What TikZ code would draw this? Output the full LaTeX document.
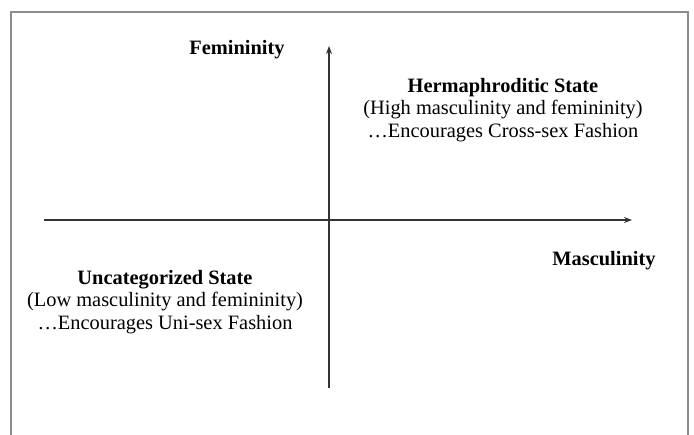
\documentclass[tikz,border=0pt]{standalone}
\usepackage{fontspec}
\setmainfont{Liberation Serif}
\usetikzlibrary{arrows.meta}
\begin{document}
\begin{tikzpicture}[x=1pt,y=-1pt,>={Stealth[length=8pt,width=6pt]},
  axis/.style={line width=1.4pt,draw=black!80},
  axlabel/.style={font=\fontsize{20.4}{22.5}\selectfont\bfseries,anchor=base,inner sep=0pt},
  quadrant/.style={font=\fontsize{20.4}{22.5}\selectfont,align=center,inner sep=0pt}]
\useasboundingbox (0,0) rectangle (694,435);
\draw[line width=2pt,draw=black!45] (11,437)--(11,12)--(688,12)--(688,437);

\coordinate (ybot) at (329,388);
\coordinate (ytop) at (329,46);
\coordinate (xleft) at (44,220);
\coordinate (xright) at (632,220);
\draw[axis,->] (ybot)--(ytop);
\draw[axis,->] (xleft)--(xright);

\node[axlabel] (fem) at (237,55) {Femininity};
\node[axlabel] (masc) at (604,266) {Masculinity};

\node[quadrant] (herm) at (503,110) {\textbf{Hermaphroditic State}\\(High masculinity and femininity)\\…Encourages Cross-sex Fashion};
\node[quadrant] (uncat) at (165,302) {\textbf{Uncategorized State}\\(Low masculinity and femininity)\\…Encourages Uni-sex Fashion};
\end{tikzpicture}
\end{document}
